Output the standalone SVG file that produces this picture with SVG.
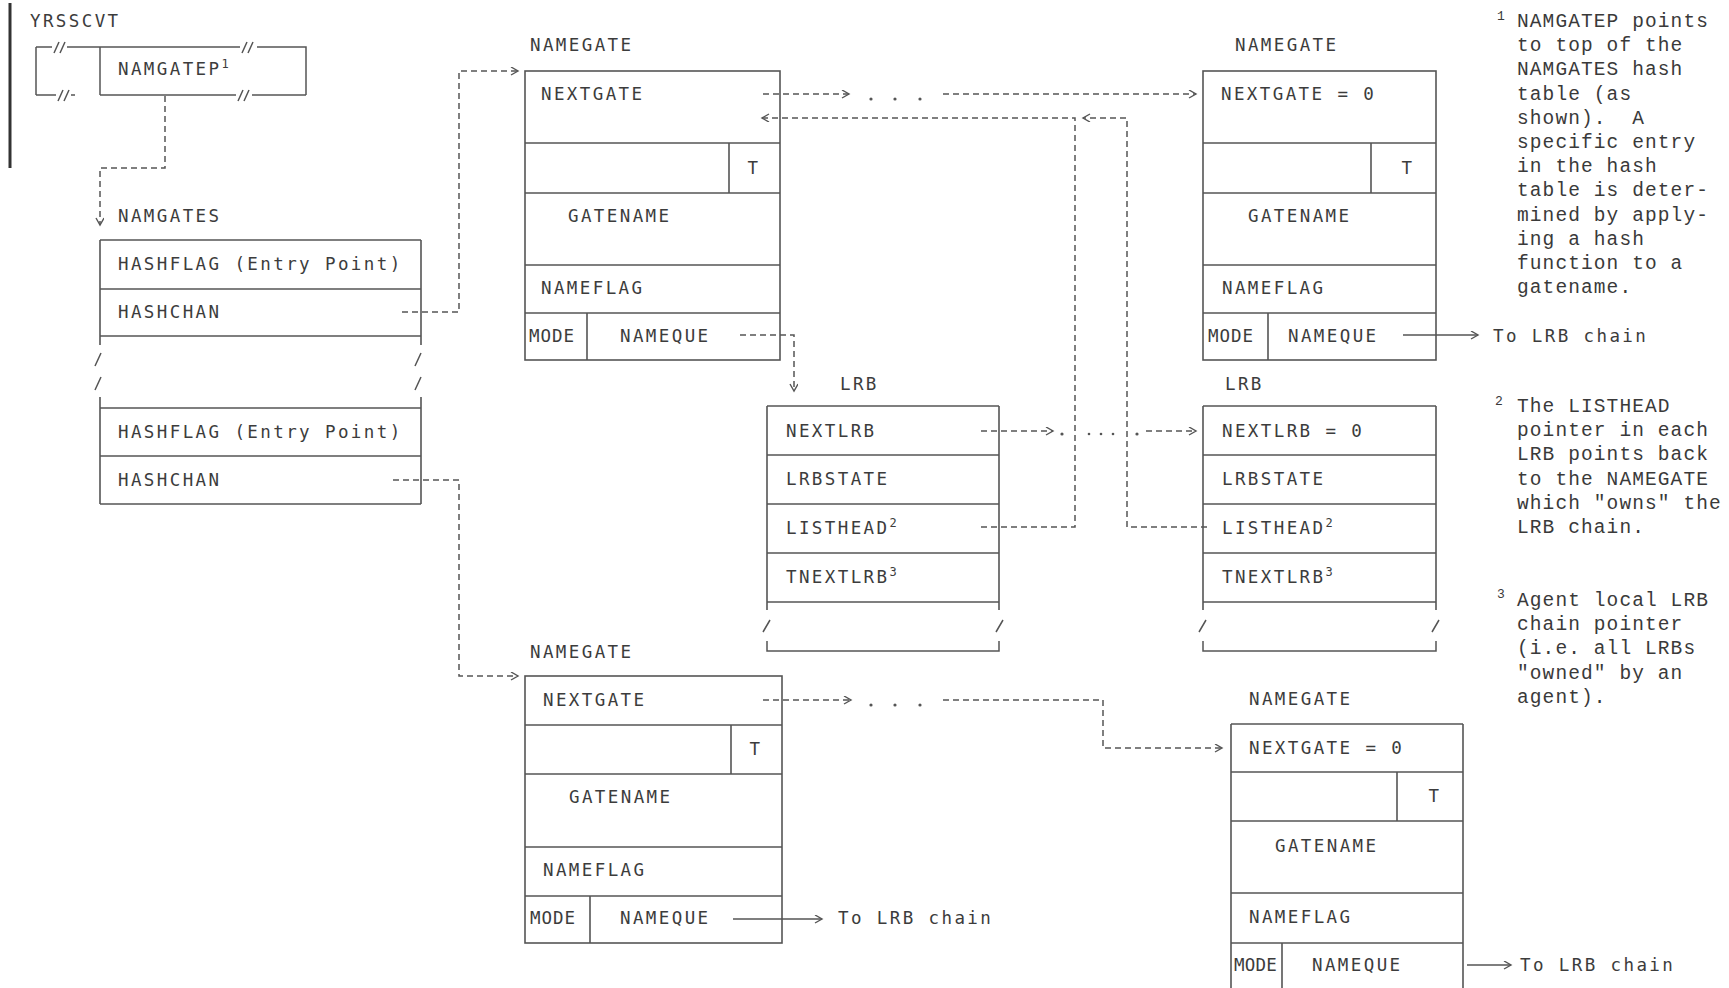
<svg xmlns="http://www.w3.org/2000/svg" width="1729" height="988" viewBox="0 0 1729 988">
<defs>
<marker id="ah" markerWidth="10" markerHeight="10" refX="8" refY="4" orient="auto" markerUnits="userSpaceOnUse">
<path d="M1,0 L8,4 L1,8" fill="none" stroke="#555" stroke-width="1.4"/>
</marker>
<style>
.b{fill:none;stroke:#555;stroke-width:1.6}
.s{fill:none;stroke:#555;stroke-width:1.5}
.d{fill:none;stroke:#555;stroke-width:1.5;stroke-dasharray:6 4}
.t{font-family:"DejaVu Sans Mono",monospace;font-size:17.5px;letter-spacing:2.4px;fill:#3c3c3c}
.m{letter-spacing:1px}
.fn{font-family:"Liberation Mono",monospace;font-size:19.5px;letter-spacing:1.1px;fill:#3a3a3a;white-space:pre}
.sup{font-size:12px;letter-spacing:0}
.dot{fill:#555}
</style>
</defs>
<rect width="1729" height="988" fill="#fff"/>

<g id="yrsscvt">
<line x1="10" y1="3" x2="10" y2="168" stroke="#333" stroke-width="3"/>
<text class="t" x="30" y="27">YRSSCVT</text>
<path class="s" d="M36,47 V95 M36,47 H52 M67,47 H240 M257,47 H306 V95 M36,95 H56 M71,95 H75 M100,95 H236 M252,95 H306 M100,47 V95"/>
<path class="s" d="M54,53 L59,42 M60,53 L65,42 M242,53 L247,42 M248,53 L253,42 M58,101 L63,90 M64,101 L69,90 M238,101 L243,90 M244,101 L249,90"/>
<text class="t" x="118" y="75">NAMGATEP<tspan class="sup" dy="-7">1</tspan></text>
</g>

<g id="namgates">
<text class="t" x="118" y="222">NAMGATES</text>
<path class="b" d="M100,240 H421 M100,289 H421 M100,336 H421 M100,240 V345 M421,240 V345"/>
<path class="s" d="M95,366 L101,353 M95,390 L101,377 M415,366 L421,353 M415,390 L421,377"/>
<path class="b" d="M100,408 H421 M100,456 H421 M100,504 H421 M100,397 V504 M421,397 V504"/>
<text class="t" x="118" y="270">HASHFLAG (Entry Point)</text>
<text class="t" x="118" y="318">HASHCHAN</text>
<text class="t" x="118" y="438">HASHFLAG (Entry Point)</text>
<text class="t" x="118" y="486">HASHCHAN</text>
</g>

<g id="namegate-top">
<text class="t" x="530" y="51">NAMEGATE</text>
<rect class="b" x="525" y="71" width="255" height="289"/>
<path class="b" d="M525,143 H780 M525,193 H780 M525,265 H780 M525,313 H780 M729,143 V193 M587,313 V360"/>
<text class="t" x="541" y="100">NEXTGATE</text>
<text class="t" x="754" y="174" text-anchor="middle">T</text>
<text class="t" x="568" y="222">GATENAME</text>
<text class="t" x="541" y="294">NAMEFLAG</text>
<text class="t m" x="529" y="342">MODE</text>
<text class="t" x="620" y="342">NAMEQUE</text>
</g>

<g id="namegate-top-right">
<text class="t" x="1235" y="51">NAMEGATE</text>
<rect class="b" x="1203" y="71" width="233" height="289"/>
<path class="b" d="M1203,143 H1436 M1203,193 H1436 M1203,265 H1436 M1203,313 H1436 M1371,143 V193 M1268,313 V360"/>
<text class="t" x="1221" y="100">NEXTGATE = 0</text>
<text class="t" x="1408" y="174" text-anchor="middle">T</text>
<text class="t" x="1248" y="222">GATENAME</text>
<text class="t" x="1222" y="294">NAMEFLAG</text>
<text class="t m" x="1208" y="342">MODE</text>
<text class="t" x="1288" y="342">NAMEQUE</text>
<text class="t" x="1493" y="342">To LRB chain</text>
</g>

<g id="lrb-mid">
<text class="t" x="840" y="390">LRB</text>
<path class="b" d="M767,406 H999 M767,455 H999 M767,504 H999 M767,553 H999 M767,602 H999 M767,406 V610 M999,406 V610"/>
<path class="s" d="M763,632 L770,620 M996,632 L1003,620 M767,641 V651 H999 V641"/>
<text class="t" x="786" y="437">NEXTLRB</text>
<text class="t" x="786" y="485">LRBSTATE</text>
<text class="t" x="786" y="534">LISTHEAD<tspan class="sup" dy="-7">2</tspan></text>
<text class="t" x="786" y="583">TNEXTLRB<tspan class="sup" dy="-7">3</tspan></text>
</g>

<g id="lrb-right">
<text class="t" x="1225" y="390">LRB</text>
<path class="b" d="M1203,406 H1436 M1203,455 H1436 M1203,504 H1436 M1203,553 H1436 M1203,602 H1436 M1203,406 V610 M1436,406 V610"/>
<path class="s" d="M1199,632 L1206,620 M1432,632 L1439,620 M1203,641 V651 H1436 V641"/>
<text class="t" x="1222" y="437">NEXTLRB = 0</text>
<text class="t" x="1222" y="485">LRBSTATE</text>
<text class="t" x="1222" y="534">LISTHEAD<tspan class="sup" dy="-7">2</tspan></text>
<text class="t" x="1222" y="583">TNEXTLRB<tspan class="sup" dy="-7">3</tspan></text>
</g>

<g id="namegate-bottom">
<text class="t" x="530" y="658">NAMEGATE</text>
<rect class="b" x="525" y="676" width="257" height="267"/>
<path class="b" d="M525,725 H782 M525,774 H782 M525,847 H782 M525,896 H782 M731,725 V774 M590,896 V943"/>
<text class="t" x="543" y="706">NEXTGATE</text>
<text class="t" x="756" y="755" text-anchor="middle">T</text>
<text class="t" x="569" y="803">GATENAME</text>
<text class="t" x="543" y="876">NAMEFLAG</text>
<text class="t m" x="530" y="924">MODE</text>
<text class="t" x="620" y="924">NAMEQUE</text>
<text class="t" x="838" y="924">To LRB chain</text>
</g>

<g id="namegate-bottom-right">
<text class="t" x="1249" y="705">NAMEGATE</text>
<path class="b" d="M1231,724 H1463 M1231,772 H1463 M1231,821 H1463 M1231,893 H1463 M1231,943 H1463 M1231,724 V992 M1463,724 V992 M1397,772 V821 M1282,943 V992"/>
<text class="t" x="1249" y="754">NEXTGATE = 0</text>
<text class="t" x="1435" y="802" text-anchor="middle">T</text>
<text class="t" x="1275" y="852">GATENAME</text>
<text class="t" x="1249" y="923">NAMEFLAG</text>
<text class="t" x="1234" y="971" style="letter-spacing:0.2px">MODE</text>
<text class="t" x="1312" y="971">NAMEQUE</text>
<text class="t" x="1520" y="971">To LRB chain</text>
</g>

<g id="connectors">
<path class="d" d="M165,96 V168 H100 V225" marker-end="url(#ah)"/>
<path class="d" d="M402,312 H459 V71 H518" marker-end="url(#ah)"/>
<path class="d" d="M393,480 H459 V676 H518" marker-end="url(#ah)"/>
<path class="d" d="M740,335 H794 V391" marker-end="url(#ah)"/>
<path class="d" d="M763,94 H849" marker-end="url(#ah)"/>
<circle class="dot" cx="871" cy="99" r="1.6"/><circle class="dot" cx="895" cy="99" r="1.6"/><circle class="dot" cx="920" cy="99" r="1.6"/>
<path class="d" d="M943,94 H1196" marker-end="url(#ah)"/>
<path class="d" d="M981,527 H1075 V118 H762" marker-end="url(#ah)"/>
<path class="d" d="M1207,527 H1127 V118 H1083" marker-end="url(#ah)"/>
<path class="d" d="M981,431 H1053" marker-end="url(#ah)"/>
<circle class="dot" cx="1062" cy="434" r="1.6"/>
<circle class="dot" cx="1089" cy="434" r="1.3"/><circle class="dot" cx="1101" cy="434" r="1.3"/><circle class="dot" cx="1113" cy="434" r="1.3"/>
<circle class="dot" cx="1137" cy="434" r="1.6"/>
<path class="d" d="M1146,431 H1196" marker-end="url(#ah)"/>
<path class="d" d="M763,700 H851" marker-end="url(#ah)"/>
<circle class="dot" cx="871" cy="705" r="1.6"/><circle class="dot" cx="895" cy="705" r="1.6"/><circle class="dot" cx="920" cy="705" r="1.6"/>
<path class="d" d="M943,700 H1103 V748 H1222" marker-end="url(#ah)"/>
<path class="s" d="M1403,335 H1478" marker-end="url(#ah)"/>
<path class="s" d="M733,919 H822" marker-end="url(#ah)"/>
<path class="s" d="M1467,965 H1511" marker-end="url(#ah)"/>
</g>

<g id="footnotes">
<text class="fn" x="1497" y="20" style="font-size:13px">1</text>
<text class="fn" x="1517" y="27">NAMGATEP points<tspan x="1517" dy="24.2">to top of the</tspan><tspan x="1517" dy="24.2">NAMGATES hash</tspan><tspan x="1517" dy="24.2">table (as</tspan><tspan x="1517" dy="24.2">shown).  A</tspan><tspan x="1517" dy="24.2">specific entry</tspan><tspan x="1517" dy="24.2">in the hash</tspan><tspan x="1517" dy="24.2">table is deter-</tspan><tspan x="1517" dy="24.2">mined by apply-</tspan><tspan x="1517" dy="24.2">ing a hash</tspan><tspan x="1517" dy="24.2">function to a</tspan><tspan x="1517" dy="24.2">gatename.</tspan></text>
<text class="fn" x="1495" y="405" style="font-size:13px">2</text>
<text class="fn" x="1517" y="412">The LISTHEAD<tspan x="1517" dy="24.2">pointer in each</tspan><tspan x="1517" dy="24.2">LRB points back</tspan><tspan x="1517" dy="24.2">to the NAMEGATE</tspan><tspan x="1517" dy="24.2">which "owns" the</tspan><tspan x="1517" dy="24.2">LRB chain.</tspan></text>
<text class="fn" x="1497" y="598" style="font-size:13px">3</text>
<text class="fn" x="1517" y="606">Agent local LRB<tspan x="1517" dy="24.2">chain pointer</tspan><tspan x="1517" dy="24.2">(i.e. all LRBs</tspan><tspan x="1517" dy="24.2">"owned" by an</tspan><tspan x="1517" dy="24.2">agent).</tspan></text>
</g>
</svg>
